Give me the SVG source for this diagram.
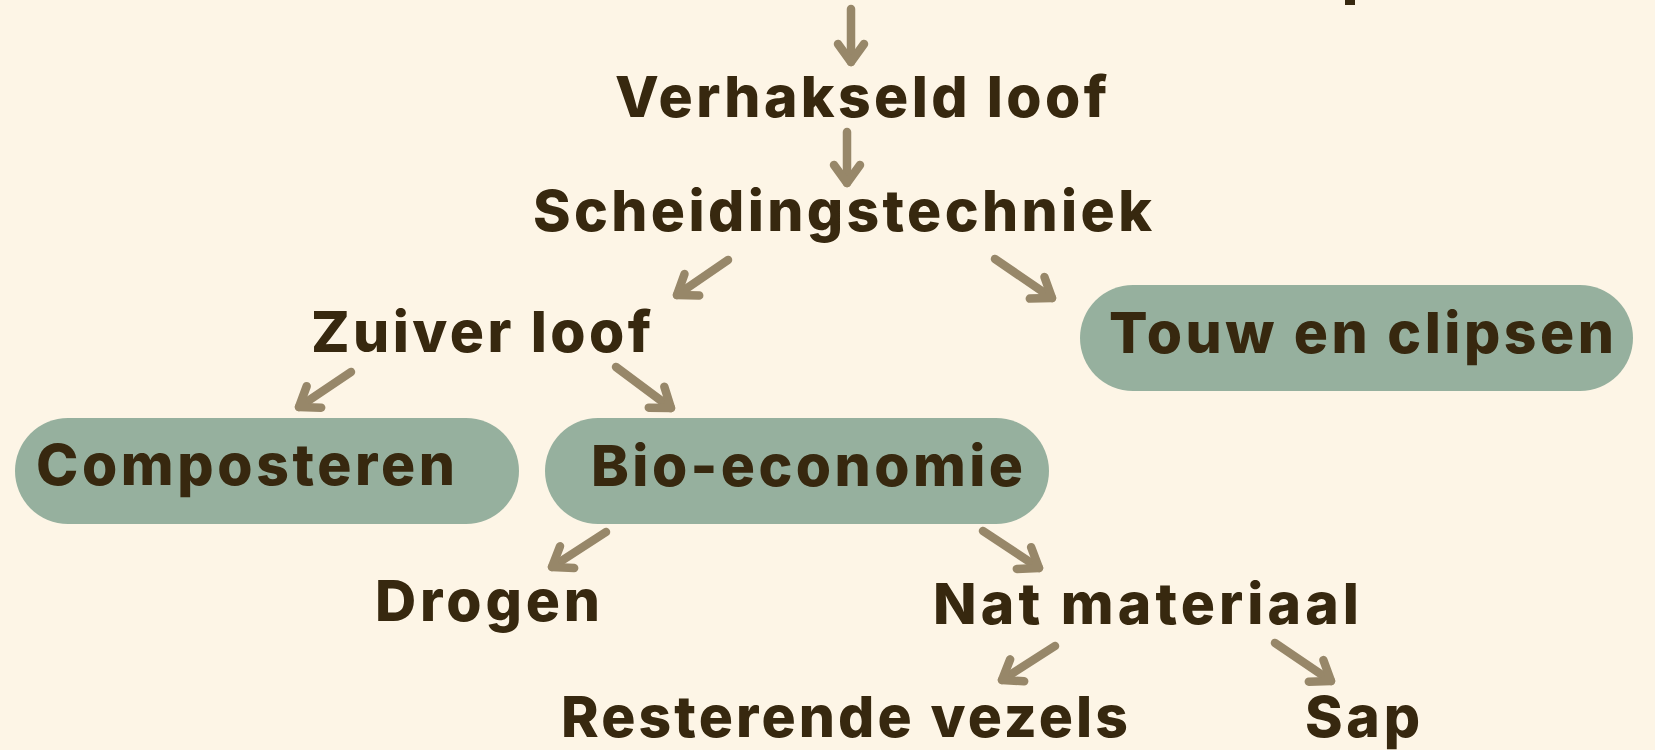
<svg xmlns="http://www.w3.org/2000/svg" width="1655" height="750" viewBox="0 0 1655 750">
<defs>
<style>
.bg{fill:#FDF5E6}
.pill{fill:#96B09E}
.t{font-family:Inter,"DejaVu Sans",sans-serif;font-weight:800;font-size:57px;fill:#37280F}
.c{fill:none;stroke:#978769;stroke-width:8.5;stroke-linecap:round}
</style>
<marker id="ah" markerUnits="userSpaceOnUse" viewBox="-30 -20 40 40" refX="0" refY="0" markerWidth="40" markerHeight="40" orient="auto" overflow="visible">
<path d="M -18 -13 L 0 0 L -18 13" fill="none" stroke="#978769" stroke-width="8.5" stroke-linecap="round" stroke-linejoin="round"/>
</marker>
</defs>
<rect class="bg" x="0" y="0" width="1655" height="750"/>
<rect x="1345" y="0" width="10" height="5" fill="#37280F"/>
<g id="connectors">
<path class="c" d="M851 9 L851 62" marker-end="url(#ah)"/>
<path class="c" d="M847 132 L847 183" marker-end="url(#ah)"/>
<path class="c" d="M728 260 L677 295" marker-end="url(#ah)"/>
<path class="c" d="M995 259 L1052 298" marker-end="url(#ah)"/>
<path class="c" d="M351 372 L299 407" marker-end="url(#ah)"/>
<path class="c" d="M616 367 L671 408" marker-end="url(#ah)"/>
<path class="c" d="M606 532 L552 567" marker-end="url(#ah)"/>
<path class="c" d="M983 531 L1039 568" marker-end="url(#ah)"/>
<path class="c" d="M1055 646 L1002 680" marker-end="url(#ah)"/>
<path class="c" d="M1275 643 L1331 681" marker-end="url(#ah)"/>
</g>
<g id="verhakseld">
<text class="t" x="615" y="117" textLength="492" lengthAdjust="spacing">Verhakseld loof</text>
</g>
<g id="scheiding">
<text class="t" x="533" y="231" textLength="619" lengthAdjust="spacing">Scheidingstechniek</text>
</g>
<g id="zuiver">
<text class="t" x="311" y="352" textLength="340" lengthAdjust="spacing">Zuiver loof</text>
</g>
<g id="touw">
<rect class="pill" x="1080" y="285" width="553" height="106" rx="53"/>
<text class="t" x="1109" y="353" textLength="505" lengthAdjust="spacing">Touw en clipsen</text>
</g>
<g id="composteren">
<rect class="pill" x="15" y="418" width="504" height="106" rx="53"/>
<text class="t" x="36" y="485" textLength="419" lengthAdjust="spacing">Composteren</text>
</g>
<g id="bio">
<rect class="pill" x="545" y="418" width="504" height="106" rx="53"/>
<text class="t" x="591" y="486" textLength="432" lengthAdjust="spacing">Bio-economie</text>
</g>
<g id="drogen">
<text class="t" x="375" y="621" textLength="225" lengthAdjust="spacing">Drogen</text>
</g>
<g id="nat">
<text class="t" x="933" y="624" textLength="426" lengthAdjust="spacing">Nat materiaal</text>
</g>
<g id="resterende">
<text class="t" x="561" y="737" textLength="567" lengthAdjust="spacing">Resterende vezels</text>
</g>
<g id="sap">
<text class="t" x="1305" y="737" textLength="115" lengthAdjust="spacing">Sap</text>
</g>
</svg>
